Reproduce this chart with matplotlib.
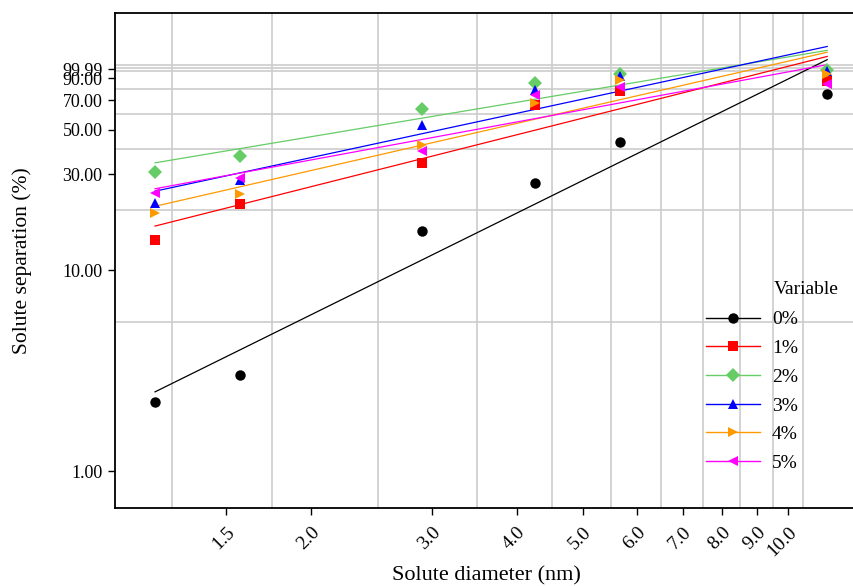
import matplotlib
matplotlib.use("Agg")
import matplotlib.pyplot as plt
from matplotlib.lines import Line2D
from matplotlib.ticker import NullFormatter
import numpy as np

# Solute diameter (nm) and solute separation (%) per additive level
diameter = [1.18, 1.57, 2.90, 4.26, 5.66, 11.4]
labels = ["0%", "1%", "2%", "3%", "4%", "5%"]
sep_0 = [2.2, 3.0, 15.6, 27.2, 43.2, 75.5]
sep_1 = [14.1, 21.3, 34.0, 66.0, 78.0, 87.0]
sep_2 = [30.6, 37.0, 63.2, 85.5, 94.4, 99.0]
sep_3 = [21.5, 28.0, 52.8, 78.6, 92.6, 98.2]
sep_4 = [19.3, 23.8, 41.9, 67.7, 88.0, 94.6]
sep_5 = [24.3, 28.7, 39.2, 74.2, 81.3, 84.5]
series = [sep_0, sep_1, sep_2, sep_3, sep_4, sep_5]

colors = ["black", "#ff0000", "#66cc66", "#0000ff", "#ff9900", "#ff00ff"]
markers = ["o", "s", "D", "^", ">", "<"]

xtick_vals = [1.5, 2.0, 3.0, 4.0, 5.0, 6.0, 7.0, 8.0, 9.0, 10.0]
ytick_vals = [1.0, 10.0, 30.0, 50.0, 70.0, 90.0, 99.99]
xgrid = [1.25, 1.5, 1.75, 2.0, 2.5, 3.0, 3.5, 4.0, 4.5, 5.0, 5.5, 6.0, 6.5,
         7.0, 7.5, 8.0, 8.5, 9.0, 9.5, 10.0, 10.5]
ygrid = [1, 5.5, 10, 20, 30, 40, 50, 60, 70, 80, 90, 98, 101, 105]

plt.rcParams['font.family'] = ['Liberation Serif', 'DejaVu Serif']

fig = plt.figure(figsize=(8.54, 5.86), dpi=100)
ax = fig.add_axes([0.1347, 0.1331, 0.8700, 0.8452])
ax.set_xscale("log")
ax.set_yscale("log")
ax.set_xlim(1.031, 12.65)
ax.set_ylim(0.657, 190.6)

# fitted lines (log-log regression)
lx = np.log10(diameter)
xfit = np.array([min(diameter), max(diameter)])
for ys, c in zip(series, colors):
    k, b = np.polyfit(lx, np.log10(ys), 1)
    ax.plot(xfit, 10 ** (k * np.log10(xfit) + b), color=c, lw=0.9, zorder=2)

for ys, c, m in zip(series, colors, markers):
    ax.plot(diameter, ys, linestyle="none", marker=m, color=c, ms=7.5,
            markeredgewidth=0, zorder=3)

# grid
ax.set_xticks(xgrid, minor=True)
ax.set_yticks(ygrid, minor=True)
ax.xaxis.set_minor_formatter(NullFormatter())
ax.yaxis.set_minor_formatter(NullFormatter())
ax.tick_params(which="minor", length=0)
ax.grid(which="minor", color="#cccccc", lw=1.2)
ax.grid(which="major", visible=False)
ax.set_axisbelow(True)

ax.set_xticks(xtick_vals)
ax.set_xticklabels(["%.1f" % v for v in xtick_vals], rotation=45, ha="right",
                   rotation_mode="anchor", fontsize=14)
ax.set_yticks(ytick_vals)
ax.set_yticklabels(["%.2f" % v for v in ytick_vals], fontsize=13)
ax.tick_params(which="major", length=5, width=1, color="black", pad=4)
ax.tick_params(axis="x", which="major", pad=6)

for s in ["left", "bottom", "top"]:
    ax.spines[s].set_linewidth(1.3)
ax.spines["right"].set_visible(False)

ax.set_xlabel("Solute diameter (nm)", fontsize=16, labelpad=5)
ax.set_ylabel("Solute separation (%)", fontsize=15.5, labelpad=22)

handles = [Line2D([], [], color=c, marker=m, ms=7.5, markeredgewidth=0, lw=1)
           for c, m in zip(colors, markers)]
leg = ax.legend(handles, labels, loc="upper left", bbox_to_anchor=(0.795, 0.398),
                frameon=False, fontsize=14, handlelength=2.8, handletextpad=0.6,
                labelspacing=0.57, borderpad=0, borderaxespad=0)
ax.text(0.886, 0.425, "Variable", transform=ax.transAxes, fontsize=14,
        ha="left", va="bottom")

fig.savefig("out.png", dpi=100)
